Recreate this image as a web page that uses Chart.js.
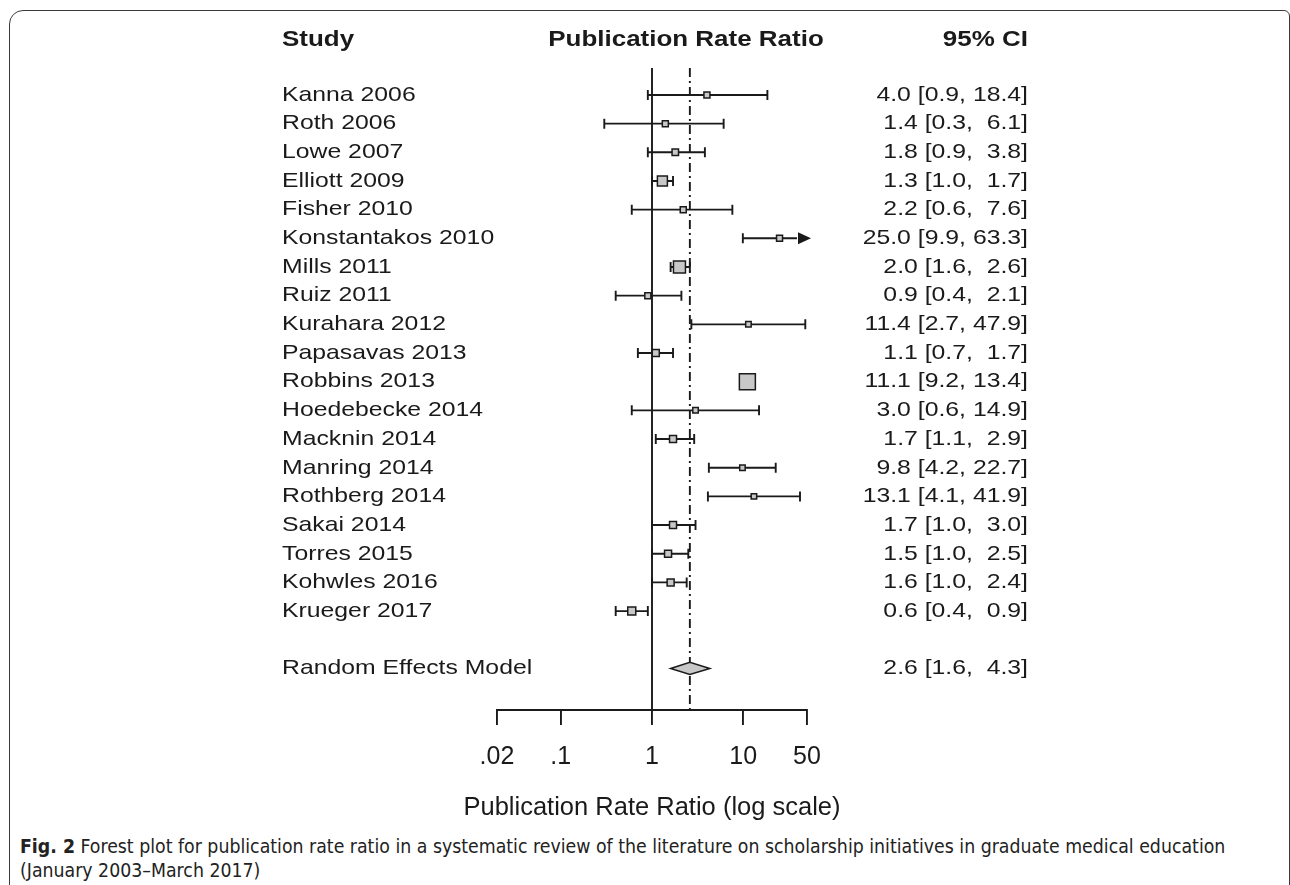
<!DOCTYPE html>
<html>
<head>
<meta charset="utf-8">
<script src="https://cdn.jsdelivr.net/npm/chart.js@4.4.1/dist/chart.umd.min.js"></script>
<style>
    html, body { margin: 0; padding: 0; background: #fff; overflow: hidden; }
    body { width: 1290px; height: 885px; position: relative; }
    #frame {
        position: absolute; left: 9px; top: 10px; width: 1281px; height: 1000px;
        border: 1.5px solid #3a3a3a; border-radius: 14px 6px 0 0; box-sizing: border-box;
    }
    #plot { position: absolute; left: 0; top: 0; }
    #caption {
        position: absolute; left: 20px; top: 834px; font-size: 19px; line-height: 24px;
        color: #222; white-space: nowrap; transform-origin: 0 0;
        font-family: "Liberation Sans Narrow", "DejaVu Sans Condensed", "Open Sans", sans-serif;
    }
</style>
</head>
<body>
<div id="frame"></div>
<canvas id="plot" width="1290" height="830"></canvas>
<div id="caption">
    <div id="capLine1"><b>Fig. 2</b> Forest plot for publication rate ratio in a systematic review of the literature on scholarship initiatives in graduate medical education</div>
    <div>(January 2003–March 2017)</div>
</div>
<script>
// 各研究資料
const studies = [
    "Kanna 2006", "Roth 2006", "Lowe 2007", "Elliott 2009", "Fisher 2010",
    "Konstantakos 2010", "Mills 2011", "Ruiz 2011", "Kurahara 2012", "Papasavas 2013",
    "Robbins 2013", "Hoedebecke 2014", "Macknin 2014", "Manring 2014", "Rothberg 2014",
    "Sakai 2014", "Torres 2015", "Kohwles 2016", "Krueger 2017"
];
const estimates = [4.0, 1.4, 1.8, 1.3, 2.2, 25.0, 2.0, 0.9, 11.4, 1.1, 11.1, 3.0, 1.7, 9.8, 13.1, 1.7, 1.5, 1.6, 0.6];
const ciLower = [0.9, 0.3, 0.9, 1.0, 0.6, 9.9, 1.6, 0.4, 2.7, 0.7, 9.2, 0.6, 1.1, 4.2, 4.1, 1.0, 1.0, 1.0, 0.4];
const ciUpper = [18.4, 6.1, 3.8, 1.7, 7.6, 63.3, 2.6, 2.1, 47.9, 1.7, 13.4, 14.9, 2.9, 22.7, 41.9, 3.0, 2.5, 2.4, 0.9];
// 相對權重（方塊面積）
const weights = [36, 36, 42, 100, 36, 36, 144, 36, 30, 49, 256, 30, 49, 30, 30, 49, 49, 49, 64];

const pooledLabel = "Random Effects Model";
const pooledEstimate = 2.6;
const pooledLower = 1.6;
const pooledUpper = 4.3;

const tickValues = [0.02, 0.1, 1, 10, 50];
const tickLabels = [".02", ".1", "1", "10", "50"];
const axisTitle = "Publication Rate Ratio (log scale)";

const INK = "#1a1a1a";
const FILL = "#c8c8c8";
const FONT = "'Liberation Sans', Arial, Helvetica, sans-serif";
const POOLED_ROW = studies.length + 1;
const TEXT_STRETCH = 1.18; // 原圖文字左右被拉寬
const LABEL_LEFT = 282;
const CI_RIGHT = 1028;

Chart.defaults.font.family = FONT;
Chart.defaults.color = INK;

function formatCI(est, lo, hi) {
    return `${est.toFixed(1)} [${lo.toFixed(1)}, ${hi.toFixed(1).padStart(4)}]`;
}

function drawText(ctx, text, x, y, align) {
    ctx.save();
    ctx.translate(x, y);
    ctx.scale(TEXT_STRETCH, 1);
    ctx.textAlign = align;
    ctx.fillText(text, 0, 0);
    ctx.restore();
}

// 誤差線、參考線、彙總菱形、文字都用刻度換算位置來畫
const forestPlugin = {
    id: "forest",
    beforeDatasetsDraw(chart) {
        const { ctx, chartArea } = chart;
        const x = chart.scales.x;
        const y = chart.scales.y;
        ctx.save();
        ctx.strokeStyle = INK;
        ctx.lineWidth = 1.9;

        // x = 1 的實線
        const xOne = x.getPixelForValue(1);
        ctx.beginPath();
        ctx.moveTo(xOne, chartArea.top);
        ctx.lineTo(xOne, chartArea.bottom);
        ctx.stroke();

        // 彙總估計值的點虛線
        const xPooled = x.getPixelForValue(pooledEstimate);
        ctx.setLineDash([9, 4, 2, 4]);
        ctx.beginPath();
        ctx.moveTo(xPooled, chartArea.top);
        ctx.lineTo(xPooled, chartArea.bottom);
        ctx.stroke();
        ctx.setLineDash([]);

        // 每個研究的信賴區間
        const capHalf = 5;
        studies.forEach((name, i) => {
            const py = y.getPixelForValue(i);
            const overflow = ciUpper[i] > x.max;
            const x0 = x.getPixelForValue(ciLower[i]);
            const x1 = x.getPixelForValue(Math.min(ciUpper[i], x.max));
            ctx.beginPath();
            ctx.moveTo(x0, py);
            ctx.lineTo(overflow ? x1 - 10 : x1, py);
            ctx.moveTo(x0, py - capHalf);
            ctx.lineTo(x0, py + capHalf);
            if (!overflow) {
                ctx.moveTo(x1, py - capHalf);
                ctx.lineTo(x1, py + capHalf);
            }
            ctx.stroke();
            if (overflow) {
                ctx.fillStyle = INK;
                ctx.beginPath();
                ctx.moveTo(x1 + 4, py);
                ctx.lineTo(x1 - 9, py - 6);
                ctx.lineTo(x1 - 9, py + 6);
                ctx.closePath();
                ctx.fill();
            }
        });

        // 彙總菱形
        const py = y.getPixelForValue(POOLED_ROW);
        const half = (y.getPixelForValue(1) - y.getPixelForValue(0)) * 0.21;
        ctx.beginPath();
        ctx.moveTo(x.getPixelForValue(pooledLower), py);
        ctx.lineTo(xPooled, py - half);
        ctx.lineTo(x.getPixelForValue(pooledUpper), py);
        ctx.lineTo(xPooled, py + half);
        ctx.closePath();
        ctx.fillStyle = FILL;
        ctx.fill();
        ctx.lineWidth = 1.5;
        ctx.stroke();
        ctx.restore();
    },
    afterDraw(chart) {
        const { ctx, chartArea } = chart;
        const y = chart.scales.y;
        ctx.save();
        ctx.fillStyle = INK;
        ctx.textBaseline = "middle";

        ctx.font = "bold 22px " + FONT;
        drawText(ctx, "Study", LABEL_LEFT, 40, "left");
        drawText(ctx, "Publication Rate Ratio", 686, 40, "center");
        drawText(ctx, "95% CI", CI_RIGHT, 40, "right");

        ctx.font = "21px " + FONT;
        studies.forEach((name, i) => {
            const py = y.getPixelForValue(i);
            drawText(ctx, name, LABEL_LEFT, py, "left");
            drawText(ctx, formatCI(estimates[i], ciLower[i], ciUpper[i]), CI_RIGHT, py, "right");
        });
        const py = y.getPixelForValue(POOLED_ROW);
        drawText(ctx, pooledLabel, LABEL_LEFT, py, "left");
        drawText(ctx, formatCI(pooledEstimate, pooledLower, pooledUpper), CI_RIGHT, py, "right");

        // x 軸標題（比軸還寬，不讓 Chart.js 壓縮）
        ctx.font = "25.5px " + FONT;
        ctx.textAlign = "center";
        ctx.fillText(axisTitle, (chartArea.left + chartArea.right) / 2, 808);
        ctx.restore();
    }
};

new Chart(document.getElementById("plot"), {
    type: "scatter",
    data: {
        datasets: [{
            data: estimates.map((value, i) => ({ x: value, y: i })),
            pointStyle: "rect",
            pointRadius: weights.map((w) => Math.sqrt(w) / Math.SQRT2),
            pointHoverRadius: weights.map((w) => Math.sqrt(w) / Math.SQRT2),
            pointBackgroundColor: FILL,
            pointBorderColor: INK,
            pointBorderWidth: 1.5,
            showLine: false
        }]
    },
    options: {
        responsive: false,
        animation: false,
        events: [],
        layout: { padding: { left: 497, right: 483, top: 68, bottom: 41 } },
        plugins: { legend: { display: false }, tooltip: { enabled: false } },
        scales: {
            x: {
                type: "logarithmic",
                min: 0.02,
                max: 50,
                afterBuildTicks: (axis) => {
                    axis.ticks = tickValues.map((v) => ({ value: v }));
                },
                ticks: {
                    callback: (value, index) => tickLabels[index],
                    font: { size: 25, lineHeight: 1 },
                    color: INK,
                    padding: 19.5,
                    maxRotation: 0,
                    autoSkip: false
                },
                grid: { drawOnChartArea: false, drawTicks: true, tickLength: 15, color: INK, lineWidth: 1.9 },
                border: { display: true, color: INK, width: 1.9 },
                title: { display: false }
            },
            y: { type: "linear", min: -0.94, max: 21.45, reverse: true, display: false }
        }
    },
    plugins: [forestPlugin]
});

// 圖說字型較窄，依參考圖寬度壓縮
const line1 = document.getElementById("capLine1");
const w = line1.scrollWidth;
if (w > 0) {
    document.getElementById("caption").style.transform = `scaleX(${1205 / w})`;
}
</script>
</body>
</html>
